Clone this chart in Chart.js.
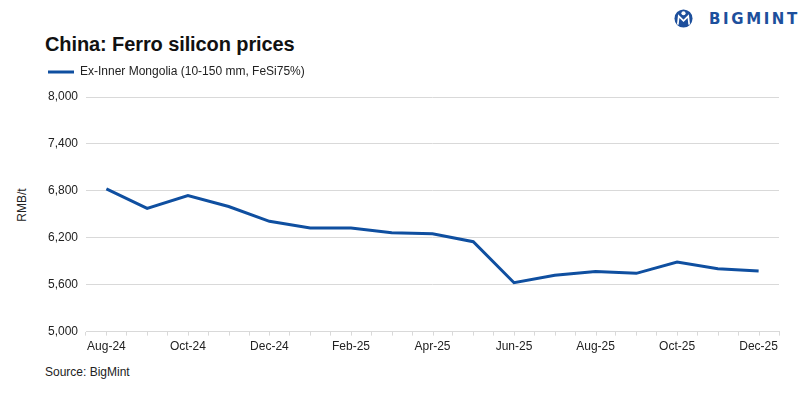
<!DOCTYPE html>
<html>
<head>
<meta charset="utf-8">
<script src="https://cdn.jsdelivr.net/npm/chart.js@4.4.1/dist/chart.umd.min.js"></script>
<style>
  body { margin: 0; width: 812px; height: 399px; background: #fff; position: relative; overflow: hidden;
         font-family: "Liberation Sans", Arial, sans-serif; color: #111; }
  #title { position: absolute; left: 45px; top: 33px; font-size: 20px; font-weight: bold; letter-spacing: -0.1px; }
  #ylab { position: absolute; left: 22px; top: 205px; transform: translate(-50%, -50%) rotate(-90deg); font-size: 12px; color: #222; }
  #source { position: absolute; left: 45px; top: 365px; font-size: 12px; color: #222; }
  #logo { position: absolute; left: 674px; top: 8px; display: flex; align-items: center; }
  #logo span { font-family: "DejaVu Sans", sans-serif; font-weight: bold; font-size: 15px; letter-spacing: 2.6px; color: #1d4f9c; margin-left: 16px; }
  #wrap { position: absolute; left: 38px; top: 0; width: 774px; height: 399px; }
</style>
</head>
<body>
<div id="logo">
  <svg width="19" height="21" viewBox="0 0 20 21">
    <circle cx="10" cy="10.5" r="9.5" fill="#1d4f9c"/>
    <circle cx="10" cy="5" r="2.2" fill="#fff"/>
    <path d="M4 17 L5 8 L10 13 L15 8 L16 17" stroke="#fff" stroke-width="1.8" fill="none"/>
  </svg>
  <span>BIGMINT</span>
</div>
<div id="title">China: Ferro silicon prices</div>
<div id="ylab">RMB/t</div>
<div id="source">Source: BigMint</div>
<div id="wrap"><canvas id="myChart"></canvas></div>
<script>
// Data
const months = ["Aug-24", "Sep-24", "Oct-24", "Nov-24", "Dec-24", "Jan-25", "Feb-25", "Mar-25", "Apr-25",
  "May-25", "Jun-25", "Jul-25", "Aug-25", "Sep-25", "Oct-25", "Nov-25", "Dec-25"];
const exInnerMongolia = [6825, 6575, 6740, 6600, 6410, 6325, 6325, 6265, 6250, 6150, 5625, 5720, 5770, 5745, 5890, 5805, 5775];
const yMin = 5000;
const yMax = 8000;
const yStep = 600;

const blue = "#0f4fa0";
const gridGray = "#d9d9d9";
const font = "'Liberation Sans', Arial, sans-serif";

// small tick marks at category centres (boundaries come from the grid)
const centerTicks = {
  id: "centerTicks",
  afterInit(chart) {
    // leave a little gap under the legend
    const legend = chart.legend;
    const fit = legend.fit;
    legend.fit = function () {
      fit.call(this);
      this.height += 9;
    };
  },
  afterDraw(chart) {
    const x = chart.scales.x;
    const ctx = chart.ctx;
    ctx.save();
    ctx.strokeStyle = gridGray;
    ctx.lineWidth = 1;
    ctx.beginPath();
    x.ticks.forEach((t, i) => {
      const px = Math.round(x.getPixelForTick(i)) + 0.5;
      ctx.moveTo(px, x.top);
      ctx.lineTo(px, x.top + 4);
    });
    ctx.stroke();
    ctx.restore();
  },
};

const ctx = document.getElementById("myChart").getContext("2d");

new Chart(ctx, {
  type: "line",
  data: {
    labels: months,
    datasets: [
      {
        label: "Ex-Inner Mongolia (10-150 mm, FeSi75%)",
        data: exInnerMongolia,
        borderColor: blue,
        backgroundColor: blue,
        borderWidth: 3,
        pointRadius: 0,
        tension: 0,
      },
    ],
  },
  plugins: [centerTicks],
  options: {
    responsive: true,
    maintainAspectRatio: false,
    animation: false,
    layout: { padding: { top: 56, right: 33, bottom: 41, left: 0 } },
    plugins: {
      legend: {
        position: "top",
        align: "start",
        labels: {
          boxWidth: 26,
          boxHeight: 3,
          padding: 10,
          color: "#222",
          font: { family: font, size: 12 },
          generateLabels(chart) {
            return Chart.defaults.plugins.legend.labels.generateLabels(chart).map((l) => ({ ...l, lineWidth: 0 }));
          },
        },
      },
      tooltip: { enabled: false },
    },
    scales: {
      y: {
        min: yMin,
        max: yMax,
        afterFit(scale) { scale.width = 48; },
        ticks: {
          stepSize: yStep,
          padding: 8,
          color: "#222",
          font: { family: font, size: 12 },
          callback: (v) => v.toLocaleString("en-US"),
        },
        grid: { color: gridGray, drawTicks: false },
        border: { display: false },
      },
      x: {
        offset: true,
        ticks: {
          autoSkip: false,
          maxRotation: 0,
          padding: 4,
          color: "#222",
          font: { family: font, size: 12 },
          callback: (v, i) => (i % 2 === 0 ? months[i] : ""),
        },
        grid: { offset: true, drawOnChartArea: false, color: gridGray, tickLength: 4 },
        border: { color: gridGray },
      },
    },
  },
});
</script>
</body>
</html>
